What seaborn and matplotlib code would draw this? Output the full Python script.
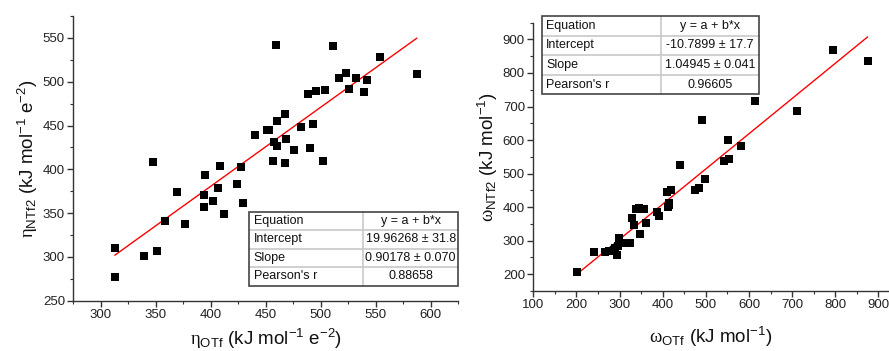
import numpy as np
import pandas as pd
import matplotlib
matplotlib.use("Agg")
import matplotlib.pyplot as plt
import seaborn as sns
from matplotlib.patches import Rectangle
from matplotlib.ticker import MultipleLocator

# data
eta_otf = [312.7, 312.7, 339.1, 350.9, 358.2, 369.7, 376.9, 394.2, 393.6, 401.8,
           406.6, 412.1, 423.6, 429.4, 347.5, 395.1, 408.5, 427.5, 440.6, 450.9,
           452.7, 459.4, 460.3, 467.5, 457.3, 460.0, 468.2, 456.6, 467.3, 475.4,
           482.4, 490.3, 493.3, 502.1, 488.7, 495.7, 503.9, 511.5, 516.6, 523.0,
           525.7, 532.1, 539.4, 542.4, 553.6, 587.5]
eta_ntf2 = [310.2, 277.4, 301.1, 307.1, 341.4, 373.9, 338.0, 370.8, 356.7, 364.0,
            379.2, 348.7, 383.7, 362.0, 408.2, 393.7, 404.3, 403.1, 439.7, 444.7,
            445.1, 541.4, 455.7, 463.0, 430.6, 426.8, 434.8, 409.7, 407.0, 422.2,
            448.2, 424.5, 451.9, 410.0, 485.4, 489.3, 490.4, 541.1, 503.7, 509.4,
            491.6, 504.5, 488.2, 501.9, 528.2, 509.1]

omega_otf = [201, 240, 266, 276, 283, 287, 290, 293, 296, 298, 299, 305, 325, 328,
             334, 337, 346, 357, 348, 361, 386, 391, 411, 413, 414, 415, 419, 474,
             484, 498, 440, 491, 543, 553, 552, 581, 614, 712, 795, 875]
omega_ntf2 = [206, 265, 265, 270, 268, 272, 279, 257, 284, 302, 309, 292, 292, 369,
              348, 395, 397, 395, 320, 352, 385, 374, 446, 400, 406, 413, 451, 450,
              456, 484, 525, 661, 538, 544, 599, 583, 717, 686, 868, 836]

fit_eta = [19.96268, 0.90178]
fit_omega = [-10.7899, 1.04945]

table_eta = [["Equation", "y = a + b*x"],
             ["Intercept", "19.96268 \u00b1 31.8"],
             ["Slope", "0.90178 \u00b1 0.070"],
             ["Pearson's r", "0.88658"]]
table_omega = [["Equation", "y = a + b*x"],
               ["Intercept", "-10.7899 \u00b1 17.7"],
               ["Slope", "1.04945 \u00b1 0.041"],
               ["Pearson's r", "0.96605"]]

sns.set_theme(style="ticks")
plt.rcParams["font.family"] = ["Liberation Sans", "DejaVu Sans"]
plt.rcParams["mathtext.fontset"] = "custom"
plt.rcParams["mathtext.rm"] = "Liberation Serif"
plt.rcParams["mathtext.sf"] = "Liberation Sans"
plt.rcParams["mathtext.default"] = "sf"

AX_COL = "#333333"


def draw_table(ax, rows, x0, y0, w, h, split):
    n = len(rows)
    rh = h / n
    for i, (a, b) in enumerate(rows):
        yc = y0 + h - (i + 0.5) * rh
        ax.text(x0 + 0.012, yc, a, transform=ax.transAxes, fontsize=9,
                ha="left", va="center", color="#111111", clip_on=False)
        ax.text(x0 + w * split + w * (1 - split) / 2, yc, b, transform=ax.transAxes,
                fontsize=9, ha="center", va="center", color="#111111", clip_on=False)
        if i > 0:
            ax.plot([x0, x0 + w], [y0 + h - i * rh] * 2, transform=ax.transAxes,
                    color="#c8c8c8", lw=1.2, clip_on=False)
    ax.plot([x0 + w * split] * 2, [y0, y0 + h], transform=ax.transAxes,
            color="#c8c8c8", lw=1.2, clip_on=False)
    ax.add_patch(Rectangle((x0, y0), w, h, transform=ax.transAxes, fill=False,
                           edgecolor="#444444", lw=1.2, clip_on=False, zorder=5))


def style_axis(ax, xmin, xmax, ymin, ymax, xmaj, xmin_, ymaj, ymin_):
    ax.set_xlim(xmin, xmax)
    ax.set_ylim(ymin, ymax)
    ax.xaxis.set_major_locator(MultipleLocator(xmaj))
    ax.xaxis.set_minor_locator(MultipleLocator(xmin_))
    ax.yaxis.set_major_locator(MultipleLocator(ymaj))
    ax.yaxis.set_minor_locator(MultipleLocator(ymin_))
    sns.despine(ax=ax)
    for s in ["left", "bottom"]:
        ax.spines[s].set_color(AX_COL)
        ax.spines[s].set_linewidth(1.0)
    ax.tick_params(which="major", direction="out", length=4, width=1.0,
                   color=AX_COL, labelsize=9.5, labelcolor="#222222", pad=2)
    ax.tick_params(which="minor", direction="out", length=2.5, width=0.8,
                   color=AX_COL)


fig = plt.figure(figsize=(8.89, 3.51), dpi=100)
ax1 = fig.add_axes([0.0825, 0.1433, 0.4328, 0.8111])
ax2 = fig.add_axes([0.5999, 0.171, 0.3998, 0.7644])

df1 = pd.DataFrame({"x": eta_otf, "y": eta_ntf2})
df2 = pd.DataFrame({"x": omega_otf, "y": omega_ntf2})

for ax, df, fit in [(ax1, df1, fit_eta), (ax2, df2, fit_omega)]:
    xs = np.array([df["x"].min(), df["x"].max()])
    sns.lineplot(x=xs, y=fit[0] + fit[1] * xs, ax=ax, color="red", lw=1.0,
                 zorder=3)
    sns.scatterplot(data=df, x="x", y="y", ax=ax, marker="s", s=28,
                    color="black", edgecolor="black", linewidth=0, zorder=4)

style_axis(ax1, 275, 625, 250, 575, 50, 25, 50, 25)
style_axis(ax2, 100, 924, 150, 950, 100, 50, 100, 50)

ax1.set_xlabel(r"$\mathrm{\eta}_{\mathsf{OTf}}$ (kJ mol$^{\mathsf{-1}}$ e$^{\mathsf{-2}}$)",
               fontsize=13.5, color="#111111", labelpad=4)
ax1.set_ylabel(r"$\mathrm{\eta}_{\mathsf{NTf2}}$ (kJ mol$^{\mathsf{-1}}$ e$^{\mathsf{-2}}$)",
               fontsize=13.5, color="#111111", labelpad=2)
ax2.set_xlabel(r"$\mathrm{\omega}_{\mathsf{OTf}}$ (kJ mol$^{\mathsf{-1}}$)",
               fontsize=13.5, color="#111111", labelpad=10)
ax2.set_ylabel(r"$\mathrm{\omega}_{\mathsf{NTf2}}$ (kJ mol$^{\mathsf{-1}}$)",
               fontsize=13.5, color="#111111", labelpad=2)

draw_table(ax1, table_eta, 0.457, 0.053, 0.543, 0.26, 0.546)
draw_table(ax2, table_omega, 0.0236, 0.733, 0.6114, 0.292, 0.55)

plt.savefig("out.png", dpi=100)
